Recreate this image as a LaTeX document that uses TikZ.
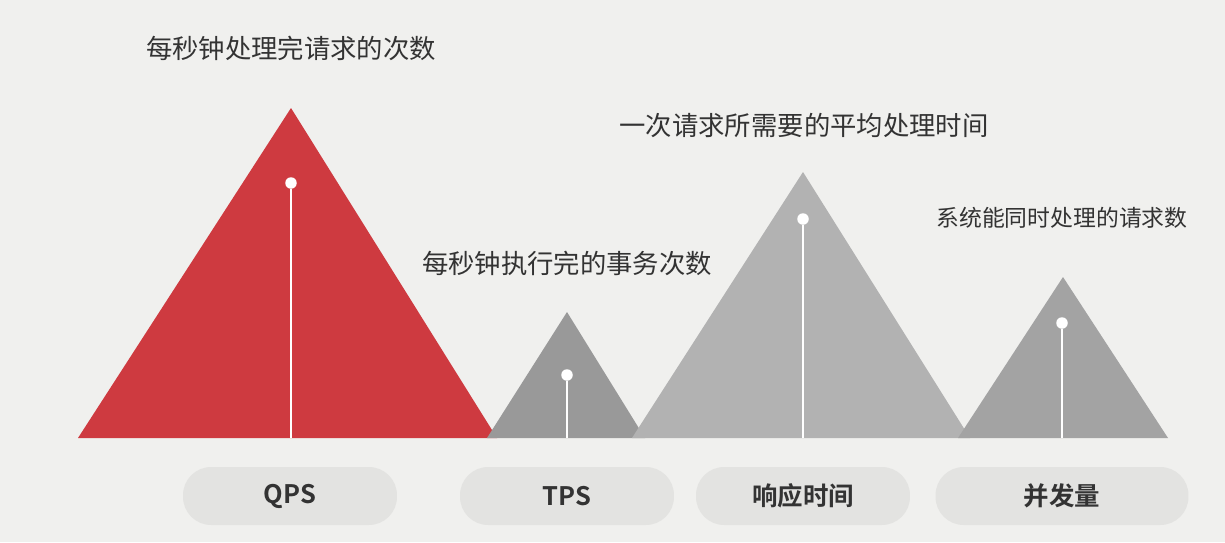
\documentclass[tikz,border=0pt]{standalone}
\usepackage{fontspec}
\setmainfont{Noto Sans CJK SC}
\newfontfamily\cjkb{Noto Sans CJK SC Bold}
\begin{document}
\definecolor{bgc}{HTML}{F0F0EE}
\definecolor{redc}{HTML}{CE3A40}
\definecolor{grayA}{HTML}{999999}
\definecolor{grayB}{HTML}{B2B2B2}
\definecolor{grayC}{HTML}{A3A3A3}
\definecolor{pillc}{HTML}{E3E3E1}
\definecolor{txtc}{HTML}{333333}
\begin{tikzpicture}[x=0.02cm,y=-0.02cm,
  pill/.style={fill=pillc,rounded corners=16pt,minimum width=4.28cm,minimum height=1.16cm,inner sep=0pt,font=\cjkb\fontsize{14.5}{16}\selectfont,text=txtc},
  desc/.style={font=\fontsize{15}{18}\selectfont,text=txtc,inner sep=0pt},
  dot/.style={circle,fill=white,minimum size=0.23cm,inner sep=0pt},
  stem/.style={white,line width=1.2pt}]
\fill[bgc] (0,0) rectangle (1225,542);
\useasboundingbox (0,0) rectangle (1225,542);
% triangles
\fill[redc] (78,438) -- (291,108) -- (497,438) -- cycle;
\fill[grayA] (487,438) -- (567,312) -- (645,438) -- cycle;
\fill[grayB] (632,438) -- (803,172) -- (970,438) -- cycle;
\fill[grayC] (958,438) -- (1063,277) -- (1168,438) -- cycle;
% dots and stems
\node[dot] (d1) at (291,183) {};
\coordinate (b1) at (291,438);
\draw[stem] (d1) -- (b1);
\node[dot] (d2) at (567,375) {};
\coordinate (b2) at (567,438);
\draw[stem] (d2) -- (b2);
\node[dot] (d3) at (803,219) {};
\coordinate (b3) at (803,438);
\draw[stem] (d3) -- (b3);
\node[dot] (d4) at (1062,323) {};
\coordinate (b4) at (1062,438);
\draw[stem] (d4) -- (b4);
% labels
\node[desc] (t1) at (291,48) {每秒钟处理完请求的次数};
\node[desc] (t2) at (567,263) {每秒钟执行完的事务次数};
\node[desc] (t3) at (804,125) {一次请求所需要的平均处理时间};
\node[desc,font=\fontsize{13}{16}\selectfont] (t4) at (1062,218) {系统能同时处理的请求数};
% pills
\node[pill] (p1) at (290,496) {QPS};
\node[pill] (p2) at (567,496) {TPS};
\node[pill] (p3) at (803,496) {响应时间};
\node[pill,minimum width=5.06cm] (p4) at (1062,496) {并发量};
\end{tikzpicture}
\end{document}
